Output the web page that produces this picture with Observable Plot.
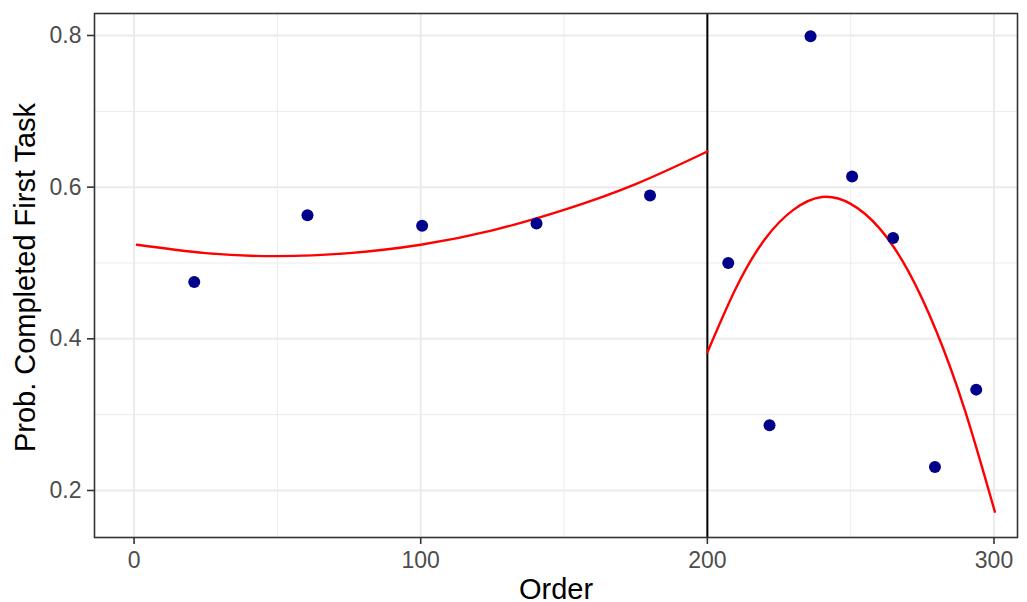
<!DOCTYPE html>
<html>
<head>
<meta charset="utf-8">
<script src="https://cdn.jsdelivr.net/npm/d3@7"></script>
<script src="https://cdn.jsdelivr.net/npm/@observablehq/plot@0.6"></script>
<style>
  html, body { margin: 0; padding: 0; background: #ffffff; }
</style>
</head>
<body>
<div id="chart"></div>
<script>
// Observed points
const orderX = [21, 60.5, 100.5, 140.4, 180, 207.3, 221.7, 236.0, 250.5, 264.8, 279.4, 293.8];
const probY  = [0.475, 0.563, 0.549, 0.552, 0.589, 0.500, 0.286, 0.799, 0.614, 0.533, 0.231, 0.333];

// Fitted curve, left of cutoff
const fitLeftX = [1, 25, 50, 75, 100, 125, 150, 175, 200];
const fitLeftY = [0.524, 0.513, 0.509, 0.513, 0.524, 0.543, 0.570, 0.604, 0.647];

// Fitted curve, right of cutoff
const fitRightX = [200, 210, 220, 230, 240, 250, 260, 270, 280, 290, 300.3];
const fitRightY = [0.382, 0.467, 0.531, 0.570, 0.587, 0.578, 0.546, 0.490, 0.409, 0.304, 0.172];

const cutoff = [200];
const xTicks = [0, 100, 200, 300];
const xMinor = [50, 150, 250];
const yTicks = [0.2, 0.4, 0.6, 0.8];
const yMinor = [0.3, 0.5, 0.7];
const xTitle = "Order";
const yTitle = "Prob. Completed First Task";

const points = orderX.map((x, i) => ({x, y: probY[i]}));
const fitLeft = fitLeftX.map((x, i) => ({x, y: fitLeftY[i]}));
const fitRight = fitRightX.map((x, i) => ({x, y: fitRightY[i]}));

const gridCol = "#EBEBEB";

const chart = Plot.plot({
  width: 1027,
  height: 602,
  marginLeft: 94,
  marginRight: 10,
  marginTop: 13,
  marginBottom: 65,
  style: {fontFamily: "'Liberation Sans', Arial, Helvetica, sans-serif", background: "#ffffff"},
  x: {domain: [-13.8, 308.2]},
  y: {domain: [0.138, 0.829]},
  marks: [
    Plot.ruleX(xMinor, {stroke: gridCol, strokeWidth: 1}),
    Plot.ruleY(yMinor, {stroke: gridCol, strokeWidth: 1}),
    Plot.ruleX(xTicks, {stroke: gridCol, strokeWidth: 2}),
    Plot.ruleY(yTicks, {stroke: gridCol, strokeWidth: 2}),
    Plot.ruleX(cutoff, {stroke: "black", strokeWidth: 2}),
    Plot.line(fitLeft, {x: "x", y: "y", stroke: "red", strokeWidth: 2.4, curve: "natural"}),
    Plot.line(fitRight, {x: "x", y: "y", stroke: "red", strokeWidth: 2.4, curve: "natural"}),
    Plot.dot(points, {x: "x", y: "y", r: 6, fill: "#00008B", stroke: null}),
    Plot.frame({stroke: "#333333", strokeWidth: 1.6}),
    Plot.axisX({ticks: xTicks, label: null, tickSize: 7, tickPadding: 7, fontSize: 23,
                fill: "#4D4D4D", stroke: "#333333", strokeWidth: 1.6}),
    Plot.axisY({ticks: yTicks, label: null, tickSize: 7, tickPadding: 6, fontSize: 23,
                tickFormat: d3.format(".1f"),
                fill: "#4D4D4D", stroke: "#333333", strokeWidth: 1.6}),
    Plot.text([xTitle], {frameAnchor: "bottom", lineAnchor: "bottom", dy: 61, fontSize: 29, fill: "black"}),
    Plot.text([yTitle], {frameAnchor: "left", textAnchor: "middle", lineAnchor: "bottom", rotate: -90, dx: -60, dy: 2, fontSize: 29, fill: "black"})
  ]
});

document.getElementById("chart").appendChild(chart);
</script>
</body>
</html>
